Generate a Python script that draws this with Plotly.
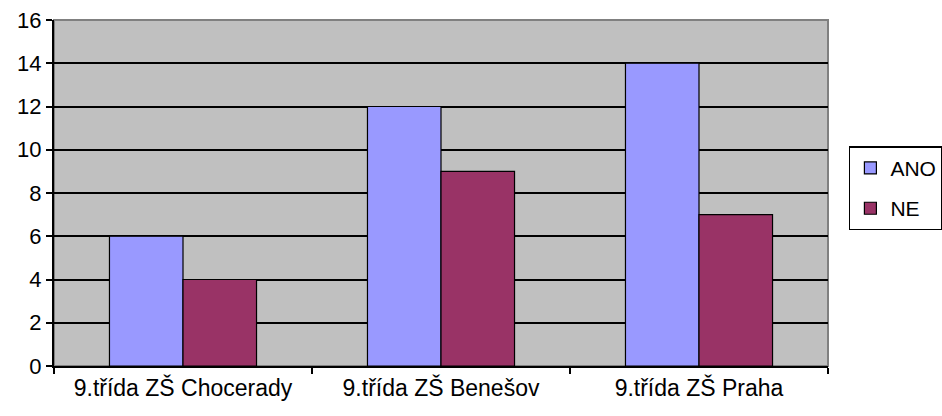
import plotly.graph_objects as go

categories = ["9.třída ZŠ Chocerady", "9.třída ZŠ Benešov", "9.třída ZŠ Praha"]
ano = [6, 12, 14]
ne = [4, 9, 7]

FONT = "Liberation Sans, Arial, sans-serif"

fig = go.Figure()
fig.add_trace(go.Bar(name="ANO", x=categories, y=ano, legendgroup="a",
                     marker=dict(color="#9999FF", line=dict(color="black", width=1.2))))
fig.add_trace(go.Bar(name="NE", x=categories, y=ne, legendgroup="b",
                     marker=dict(color="#993366", line=dict(color="black", width=1.2))))

fig.update_layout(
    width=942, height=416,
    margin=dict(l=54, r=114, t=20, b=50, autoexpand=False),
    paper_bgcolor="white", plot_bgcolor="#C0C0C0",
    barmode="group", bargap=0.43, bargroupgap=0,
    font=dict(family=FONT, size=22, color="black"),
    showlegend=True,
    legend=dict(x=1.027, y=0.635, xanchor="left", yanchor="top",
                bordercolor="black", borderwidth=1.5, bgcolor="white",
                font=dict(size=21), itemwidth=30, traceorder="grouped", tracegroupgap=10),
    shapes=[dict(type="rect", xref="paper", yref="paper", x0=0, y0=0, x1=1, y1=1,
                 line=dict(color="#808080", width=2), layer="below")],
)
fig.update_xaxes(showline=True, linecolor="black", linewidth=2, ticks="outside",
                 tickson="boundaries", ticklen=6, tickcolor="black", tickwidth=2,
                 showgrid=False, tickfont=dict(size=23), automargin=False)
fig.update_yaxes(range=[0, 16], dtick=2, showline=True, linecolor="black", linewidth=2,
                 ticks="outside", ticklen=6, tickcolor="black", tickwidth=2,
                 showgrid=True, gridcolor="black", gridwidth=1.5, zeroline=False,
                 tickfont=dict(size=22), automargin=False)

fig.write_html("out.html", config={"displayModeBar": False},
               post_script="document.body.style.margin='0';document.body.style.overflow='hidden';")
